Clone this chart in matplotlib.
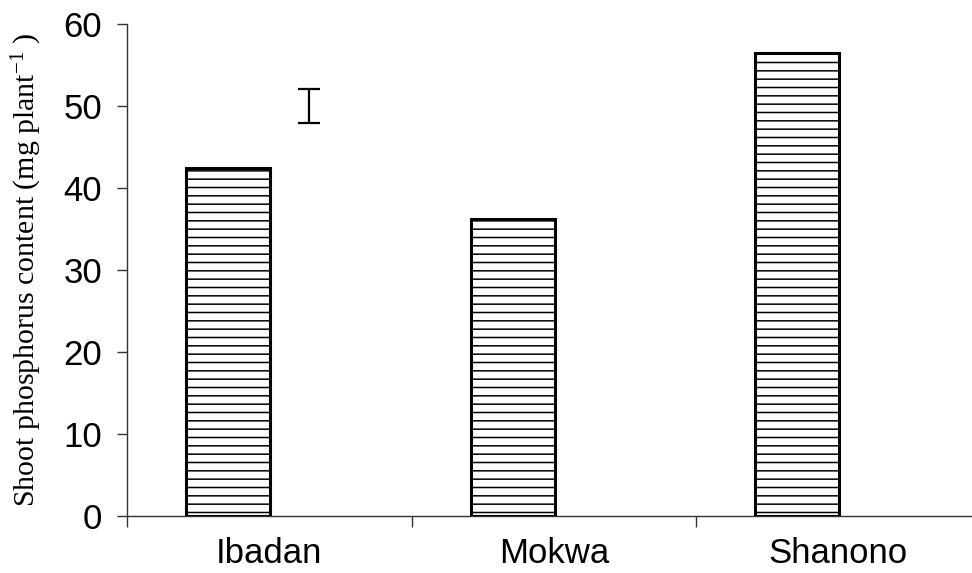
import matplotlib.pyplot as plt
import numpy as np

sites = ["Ibadan", "Mokwa", "Shanono"]
shoot_p = [42.4, 36.2, 56.5]
lsd_center = 50.0
lsd_half = 2.1

plt.rcParams["hatch.linewidth"] = 1.1
plt.rcParams["mathtext.fontset"] = "custom"
plt.rcParams["mathtext.rm"] = "Liberation Serif"
plt.rcParams["mathtext.it"] = "Liberation Serif:italic"

fig = plt.figure(figsize=(9.72, 5.73), dpi=100)
ax = fig.add_axes([127 / 972, 57 / 573, 853.5 / 972, 492 / 573])

x = np.arange(len(sites))
bar_offset = -0.144
ax.bar(x + bar_offset, shoot_p, width=0.295, color="white",
       edgecolor="black", linewidth=2.2, hatch="--", zorder=3)

# LSD bar
ax.errorbar([0.14], [lsd_center], yerr=[lsd_half], fmt="none",
            ecolor="black", elinewidth=1.6, capsize=8, capthick=1.6)

ax.set_xlim(-0.5, 2.5)
ax.set_ylim(0, 60)

for side in ("top", "right"):
    ax.spines[side].set_visible(False)
for side in ("left", "bottom"):
    ax.spines[side].set_color("#333333")
    ax.spines[side].set_linewidth(1.0)

ax.set_yticks(range(0, 61, 10))
ax.tick_params(axis="y", direction="out", length=7, width=1.0,
               color="#333333", pad=11, labelsize=25)
for lab in ax.get_yticklabels():
    lab.set_family("Liberation Sans")

ax.set_xticks([-0.5, 0.5, 1.5, 2.5])
ax.set_xticklabels([])
ax.tick_params(axis="x", which="major", direction="out", length=8,
               width=1.0, color="#333333")
ax.set_xticks(x, minor=True)
ax.set_xticklabels(sites, minor=True, family="Liberation Sans", fontsize=25)
ax.tick_params(axis="x", which="minor", length=0, pad=15)

ax.set_ylabel(r"Shoot phosphorus content (mg plant$^{\mathrm{-1}}$ )",
              family="Liberation Serif", fontsize=21.5)
ax.yaxis.set_label_coords(-0.097, 0.5)

fig.savefig("out.png", dpi=100)
